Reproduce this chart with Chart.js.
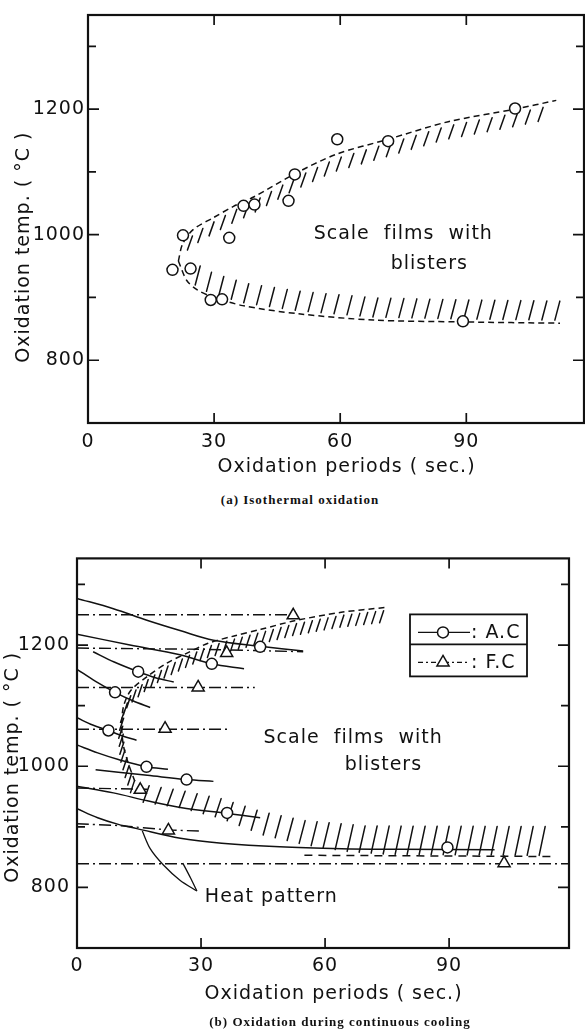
<!DOCTYPE html>
<html><head><meta charset="utf-8"><title>Oxidation charts</title>
<script src="https://cdn.jsdelivr.net/npm/chart.js@4.4.1/dist/chart.umd.min.js"></script>
<style>
html,body{margin:0;padding:0;background:#fff;}
body{width:585px;height:1030px;position:relative;overflow:hidden;}
canvas{position:absolute;left:0;}
.cap{position:absolute;font-family:"Liberation Serif","Times New Roman",serif;font-weight:bold;font-size:13px;letter-spacing:1px;color:#111;white-space:nowrap;transform:translateX(-50%);line-height:15px;}
</style></head><body>
<canvas id="chartA" width="585" height="490" style="top:0;width:585px;height:490px"></canvas>
<canvas id="chartB" width="585" height="490" style="top:540px;width:585px;height:490px"></canvas>
<div class="cap" style="left:300px;top:492px;">(a) Isothermal oxidation</div>
<div class="cap" style="left:340px;top:1014px;">(b) Oxidation during continuous cooling</div>
<script>
// ---------------- shared tick arrays ----------------
const periodTicks = [0, 30, 60, 90];
const periodTickLabels = ['0', '30', '60', '90'];
const tempTicks = [700, 800, 900, 1000, 1100, 1200, 1300];
const tempTickLabels = ['', '800', '', '1000', '', '1200', ''];

// ---------------- (a) Isothermal oxidation ----------------
const aPeriods = [22.6, 20.1, 24.4, 29.2, 31.9, 33.6, 37.0, 39.6, 47.7, 49.2, 59.3, 71.4, 101.6, 89.2];
const aTemps   = [999, 944, 946, 896, 897, 995, 1046, 1048, 1054, 1096, 1152, 1149, 1201, 862];
const aUpperBoundary = [[21.5,958],[22.5,985],[25,1008],[29.8,1027],[34.6,1045],[39.4,1060],[49.2,1097],[59,1128],[71.4,1152],[85.7,1180],[101.6,1200],[111.4,1214]];
const aLowerBoundary = [[21.5,958],[23.5,927],[26,912],[28.8,903],[36.8,887],[50.1,874],[67.9,864],[89.2,861],[112.3,859]];
const aNoteTexts = ['Scale  films  with', 'blisters'];
const aNoteAt = [[75, 1001], [81.2, 953]];

// ---------------- (b) Oxidation during continuous cooling ----------------
const acPeriods = [7.6, 9.2, 14.8, 16.8, 26.5, 32.6, 36.3, 44.3, 89.6];
const acTemps   = [1059, 1122, 1156, 999, 978, 1169, 923, 1197, 866];
const fcPeriods = [52.3, 36.2, 29.3, 21.3, 15.3, 22.1, 103.3];
const fcTemps   = [1249, 1187, 1130, 1062, 961, 894, 840];
// A.C heat patterns (solid)
const acCurve1 = [[0,1277],[8.8,1260],[16.9,1241],[24.9,1224],[33,1208],[44.3,1198],[54.7,1190]];
const acCurve2 = [[0,1218],[12.8,1200],[24.9,1184],[32.6,1169],[40.4,1161]];
const acCurve3 = [[3.9,1189],[9,1172],[14.8,1156],[19,1146],[23.4,1139]];
const acCurve4 = [[0,1160],[4.5,1140],[9.2,1122],[13.5,1108],[17.7,1097]];
const acCurve5 = [[0,1080],[3.8,1068],[7.6,1059],[11,1050],[14.4,1043]];
const acCurve6 = [[0,1035],[5,1022],[10,1011],[16.8,999],[22,995]];
const acCurve7 = [[4.5,994],[10,990],[17,985],[26.5,978],[33,975]];
const acCurve8 = [[0,967],[8.8,956],[17,943],[25,932],[36.3,922],[44.3,915]];
const acCurve9 = [[0,930],[5,915],[10,904],[14.5,897],[25,881],[35,873],[49,867],[64,864],[78,863],[101,862]];
// F.C heat patterns (dash-dot)
const fcLine1 = [[0,1250],[52,1250]];
const fcLine2 = [[0,1195],[30,1193],[54.7,1189]];
const fcLine3 = [[0,1130],[43,1130]];
const fcLine4 = [[0,1061],[37,1061]];
const fcLine5 = [[0,964],[17,962]];
const fcLine6 = [[0,905],[10,902],[22,895],[30,893]];
const fcLine7 = [[0,839],[119,839]];
// blister region boundaries
const bUpperBoundary = [[14,975],[12.4,1005],[11.2,1035],[10.8,1070],[11.3,1100],[13,1125],[17,1148],[21.7,1170],[27,1188],[31.7,1203],[38,1215],[44.5,1226],[52.6,1240],[63.9,1254],[74.5,1262]];
const bLowerBandBottom = [[15,940],[25,930],[35,912],[45,885],[55,869],[65,858],[75,853],[116,851]];
const bLowerBandTop = [[15,972],[25,962],[35,948],[45,926],[55,912],[70,903],[116,902]];
const bLowerDashed = [[55,853],[115,851]];
const heatPointer1 = [[15.8,893],[17.7,864],[20.9,837],[24.9,812],[29,794]];
const heatPointer2 = [[25.6,840],[27.5,815],[29,794]];
const bNoteTexts = ['Scale  films  with', 'blisters', 'Heat pattern'];
const bNoteAt = [[66.8, 1047], [74.1, 1002], [47, 784]];
const legendLabels = [': A.C', ': F.C'];

// ---------------- helpers ----------------
const INK = '#111';
const FONT = "'DejaVu Sans', sans-serif";
Chart.defaults.font.family = FONT;
Chart.defaults.color = INK;

const xy = (xs, ys) => xs.map((x, i) => ({x, y: ys[i]}));
const pts = arr => arr.map(p => ({x: p[0], y: p[1]}));
const lab = (vals, labels) => v => { const i = vals.indexOf(v); return i >= 0 ? labels[i] : ''; };
function lineDs(arr, dash, width, tension) {
  return {data: pts(arr), showLine: true, borderColor: INK, borderWidth: width || 1.5,
    borderDash: dash || [], pointRadius: 0, pointHoverRadius: 0, tension: tension == null ? 0.35 : tension, fill: false};
}
function toPx(chart, arr) {
  const X = chart.scales.x, Y = chart.scales.y;
  return arr.map(p => [X.getPixelForValue(p[0]), Y.getPixelForValue(p[1])]);
}
function yAt(poly, x) {
  for (let i = 0; i < poly.length - 1; i++) {
    const [x0, y0] = poly[i], [x1, y1] = poly[i + 1];
    if ((x >= x0 && x <= x1) || (x >= x1 && x <= x0)) return x1 === x0 ? y0 : y0 + (y1 - y0) * (x - x0) / (x1 - x0);
  }
  return null;
}

const spacingPlugin = { id: 'spacing', beforeDraw(chart) { try { chart.ctx.letterSpacing = '1px'; } catch (e) {} } };

const hatchPlugin = {
  id: 'hatch',
  beforeDatasetsDraw(chart, args, o) {
    if (!o || (!o.along && !o.bands)) return;
    const ctx = chart.ctx, X = chart.scales.x, ca = chart.chartArea;
    ctx.save();
    ctx.beginPath(); ctx.rect(ca.left, ca.top, ca.right - ca.left, ca.bottom - ca.top); ctx.clip();
    ctx.strokeStyle = INK; ctx.lineWidth = 1.5; ctx.lineCap = 'round'; ctx.setLineDash([]);
    ctx.beginPath();
    (o.along || []).forEach(h => {
      const poly = toPx(chart, h.curve);
      const x0 = X.getPixelForValue(h.from), x1 = X.getPixelForValue(h.to);
      let acc = h.spacing / 2;
      for (let i = 0; i < poly.length - 1; i++) {
        const [ax, ay] = poly[i], [bx, by] = poly[i + 1];
        const L = Math.hypot(bx - ax, by - ay);
        while (acc <= L) {
          const f = acc / L, x = ax + (bx - ax) * f, y = ay + (by - ay) * f;
          if (x >= x0 && x <= x1) { ctx.moveTo(x + h.a[0], y + h.a[1]); ctx.lineTo(x + h.b[0], y + h.b[1]); }
          acc += h.spacing;
        }
        acc -= L;
      }
    });
    (o.bands || []).forEach(h => {
      const lo = toPx(chart, h.low), up = toPx(chart, h.up);
      const x0 = X.getPixelForValue(h.from), x1 = X.getPixelForValue(h.to);
      for (let x = x0; x <= x1; x += h.spacing) {
        const yl = yAt(lo, x), yu = yAt(up, x + h.lean);
        if (yl == null || yu == null) continue;
        ctx.moveTo(x, yl - h.gap); ctx.lineTo(x + h.lean, yu + h.gap);
      }
    });
    ctx.stroke();
    ctx.restore();
  }
};

const framePlugin = {
  id: 'frame',
  afterDraw(chart, args, o) {
    if (!o || !o.xTicks) return;
    const {ctx, chartArea: {left, top, right, bottom}} = chart;
    const X = chart.scales.x, Y = chart.scales.y;
    ctx.save();
    ctx.strokeStyle = INK; ctx.setLineDash([]); ctx.lineWidth = 2.2;
    ctx.strokeRect(left, top, right - left, bottom - top);
    ctx.beginPath();
    o.xTicks.forEach(v => {
      if (v <= X.min || v >= X.max) return;
      const x = X.getPixelForValue(v);
      ctx.moveTo(x, bottom); ctx.lineTo(x, bottom - o.xLen);
      ctx.moveTo(x, top); ctx.lineTo(x, top + o.xLen);
    });
    o.yTicks.forEach((v, i) => {
      if (v <= Y.min || v >= Y.max) return;
      const y = Y.getPixelForValue(v);
      const len = o.yLabels[i] ? o.yMajor : o.yMinor;
      ctx.moveTo(left, y); ctx.lineTo(left + len, y);
      ctx.moveTo(right, y); ctx.lineTo(right - len, y);
    });
    ctx.lineWidth = 1.7; ctx.stroke();
    ctx.restore();
  }
};

const notesPlugin = {
  id: 'notes',
  afterDatasetsDraw(chart, args, o) {
    if (!o || !o.texts) return;
    const ctx = chart.ctx, X = chart.scales.x, Y = chart.scales.y;
    ctx.save();
    ctx.fillStyle = INK; ctx.font = '19px ' + FONT; ctx.textBaseline = 'middle'; ctx.textAlign = 'center';
    try { ctx.letterSpacing = '1px'; } catch (e) {}
    o.texts.forEach((t, i) => ctx.fillText(t, X.getPixelForValue(o.at[i][0]), Y.getPixelForValue(o.at[i][1])));
    ctx.restore();
  }
};

function drawMarker(ctx, style, x, y, r) {
  ctx.beginPath();
  if (style === 'triangle') {
    let rad = 0;
    ctx.moveTo(x + Math.sin(rad) * r, y - Math.cos(rad) * r); rad += 2 * Math.PI / 3;
    ctx.lineTo(x + Math.sin(rad) * r, y - Math.cos(rad) * r); rad += 2 * Math.PI / 3;
    ctx.lineTo(x + Math.sin(rad) * r, y - Math.cos(rad) * r); ctx.closePath();
  } else {
    ctx.arc(x, y, r, 0, Math.PI * 2);
  }
  ctx.fillStyle = '#fff'; ctx.fill(); ctx.stroke();
}

const keyPlugin = {
  id: 'keybox',
  afterDraw(chart, args, o) {
    if (!o || !o.labels) return;
    const ctx = chart.ctx, ca = chart.chartArea;
    const x0 = ca.left + o.dx, y0 = ca.top + o.dy;
    ctx.save();
    ctx.strokeStyle = INK; ctx.setLineDash([]); ctx.lineWidth = 1.8;
    ctx.strokeRect(x0, y0, o.w, o.h);
    ctx.beginPath(); ctx.moveTo(x0, y0 + o.split); ctx.lineTo(x0 + o.w, y0 + o.split); ctx.stroke();
    ctx.font = '19px ' + FONT; ctx.fillStyle = INK; ctx.textBaseline = 'middle'; ctx.textAlign = 'left';
    try { ctx.letterSpacing = '1px'; } catch (e) {}
    o.labels.forEach((t, i) => {
      const cy = y0 + o.rowY[i];
      ctx.lineWidth = 1.3; ctx.setLineDash(o.dashes[i]);
      ctx.beginPath(); ctx.moveTo(x0 + 8, cy); ctx.lineTo(x0 + 60, cy); ctx.stroke();
      ctx.setLineDash([]); ctx.lineWidth = 1.5;
      drawMarker(ctx, o.styles[i], x0 + 33, cy, o.radii[i]);
      ctx.fillStyle = INK;
      ctx.fillText(t, x0 + 61, cy + 1);
    });
    ctx.restore();
  }
};

Chart.register(spacingPlugin, hatchPlugin, framePlugin, notesPlugin, keyPlugin);

function axes(cfg) {
  return {
    x: {
      type: 'linear', min: 0, max: cfg.xmax,
      afterBuildTicks: s => { s.ticks = periodTicks.map(v => ({value: v})); },
      afterFit: s => { s.height = cfg.xh; },
      grid: {display: false, drawTicks: false}, border: {display: false},
      ticks: {autoSkip: false, maxRotation: 0, padding: cfg.xpad, color: INK, font: {size: 19}, callback: lab(periodTicks, periodTickLabels)},
      title: {display: true, text: '   Oxidation periods ( sec.)', color: INK, font: {size: 19}, padding: {top: 0, bottom: cfg.xtpad}}
    },
    y: {
      type: 'linear', min: 700, max: cfg.ymax,
      afterBuildTicks: s => { s.ticks = tempTicks.map(v => ({value: v})); },
      afterFit: s => { s.width = cfg.yw; },
      grid: {display: false, drawTicks: false}, border: {display: false},
      ticks: {autoSkip: false, padding: cfg.ypad, color: INK, font: {size: 19}, callback: lab(tempTicks, tempTickLabels)},
      title: {display: true, text: 'Oxidation temp. ( °C )' + cfg.ytail, color: INK, font: {size: 19}, padding: {top: cfg.ytpad, bottom: 0}}
    }
  };
}

const common = {responsive: false, animation: false, events: [], devicePixelRatio: 1};

// ---------------- chart (a) ----------------
new Chart(document.getElementById('chartA'), {
  type: 'scatter',
  data: {datasets: [
    {label: 'Isothermal', data: xy(aPeriods, aTemps), pointStyle: 'circle', pointRadius: 5.5, pointBorderWidth: 1.5,
     pointBackgroundColor: '#fff', pointBorderColor: INK, showLine: false},
    lineDs(aUpperBoundary, [6, 4], 1.5, 0.3),
    lineDs(aLowerBoundary, [6, 4], 1.5, 0.3)
  ]},
  options: Object.assign({}, common, {
    layout: {padding: {left: 0, top: 15, right: 1, bottom: 0}, autoPadding: false},
    scales: axes({xmax: 118, ymax: 1350, xh: 67, yw: 88, xpad: 8, xtpad: 11.6, ypad: 3, ytpad: 13, ytail: '        '}),
    plugins: {
      legend: {display: false}, tooltip: {enabled: false},
      hatch: {along: [
        {curve: aUpperBoundary, from: 24, to: 111, spacing: 13, a: [1, 4], b: [-4, 18]},
        {curve: aLowerBoundary, from: 24, to: 112, spacing: 13, a: [0, -3], b: [5, -22]}
      ]},
      frame: {xTicks: periodTicks, yTicks: tempTicks, yLabels: tempTickLabels, xLen: 10, yMajor: 11, yMinor: 8},
      notes: {texts: aNoteTexts, at: aNoteAt}
    }
  })
});

// ---------------- chart (b) ----------------
const dashDot = [12, 4, 2, 4];
new Chart(document.getElementById('chartB'), {
  type: 'scatter',
  data: {datasets: [
    {label: 'A.C', data: xy(acPeriods, acTemps), pointStyle: 'circle', pointRadius: 5.5, pointBorderWidth: 1.5,
     pointBackgroundColor: '#fff', pointBorderColor: INK, showLine: false},
    {label: 'F.C', data: xy(fcPeriods, fcTemps), pointStyle: 'triangle', pointRadius: 7, pointBorderWidth: 1.5,
     pointBackgroundColor: '#fff', pointBorderColor: INK, showLine: false},
    lineDs(acCurve1), lineDs(acCurve2), lineDs(acCurve3), lineDs(acCurve4), lineDs(acCurve5),
    lineDs(acCurve6), lineDs(acCurve7), lineDs(acCurve8), lineDs(acCurve9),
    lineDs(fcLine1, dashDot, 1.4, 0), lineDs(fcLine2, dashDot, 1.4, 0), lineDs(fcLine3, dashDot, 1.4, 0),
    lineDs(fcLine4, dashDot, 1.4, 0), lineDs(fcLine5, dashDot, 1.4, 0), lineDs(fcLine6, dashDot, 1.4, 0.2),
    lineDs(fcLine7, dashDot, 1.4, 0),
    lineDs(bUpperBoundary, [6, 4], 1.5, 0.3),
    lineDs(bLowerDashed, [8, 6], 1.5, 0),
    lineDs(heatPointer1, [], 1.3, 0.3),
    lineDs(heatPointer2, [], 1.3, 0.3)
  ]},
  options: Object.assign({}, common, {
    layout: {padding: {left: 0, top: 12, right: 16, bottom: 0}, autoPadding: false},
    scales: axes({xmax: 119, ymax: 1343, xh: 82, yw: 77, xpad: 6.6, xtpad: 24.6, ypad: 7, ytpad: 1.6, ytail: '    '}),
    plugins: {
      legend: {display: false}, tooltip: {enabled: false},
      hatch: {
        along: [{curve: bUpperBoundary, from: 9, to: 74, spacing: 8, a: [1, 3], b: [-3, 15]}],
        bands: [{low: bLowerBandBottom, up: bLowerBandTop, from: 16, to: 114, spacing: 12, lean: 6, gap: 1}]
      },
      frame: {xTicks: periodTicks, yTicks: tempTicks, yLabels: tempTickLabels, xLen: 10, yMajor: 11, yMinor: 8},
      notes: {texts: bNoteTexts, at: bNoteAt},
      keybox: {labels: legendLabels, styles: ['circle', 'triangle'], radii: [5.5, 7], dashes: [[], [5, 3, 2, 3]],
               dx: 333, dy: 56, w: 117, h: 62, split: 30, rowY: [18, 48]}
    }
  })
});
</script>
</body></html>
